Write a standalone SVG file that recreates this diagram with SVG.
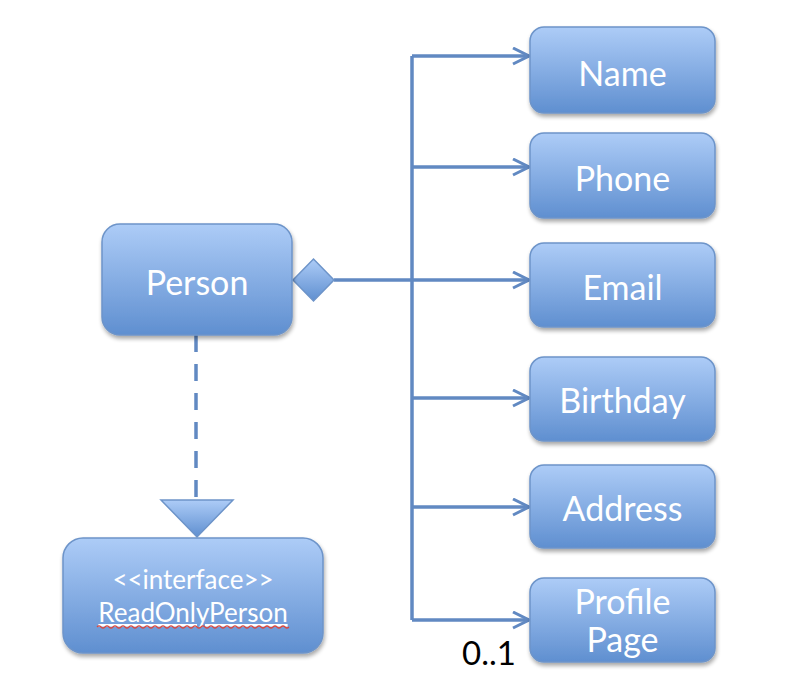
<svg xmlns="http://www.w3.org/2000/svg" width="804" height="694" viewBox="0 0 804 694">
<defs>
  <linearGradient id="g" x1="0" y1="0" x2="0" y2="1">
    <stop offset="0" stop-color="#adccf7"/>
    <stop offset="1" stop-color="#5f8fd0"/>
  </linearGradient>
  <filter id="sh" x="-10%" y="-10%" width="125%" height="130%">
    <feGaussianBlur in="SourceAlpha" stdDeviation="2"/>
    <feOffset dx="1" dy="3" result="b"/>
    <feComponentTransfer><feFuncA type="linear" slope="0.35"/></feComponentTransfer>
    <feMerge><feMergeNode/><feMergeNode in="SourceGraphic"/></feMerge>
  </filter>
  <marker id="open" markerWidth="20" markerHeight="20" refX="17" refY="9" orient="auto" markerUnits="userSpaceOnUse">
    <path d="M1,1 L17,9 L1,17" fill="none" stroke="#6189c2" stroke-width="3"/>
  </marker>
</defs>
<style>
  .box { fill: url(#g); stroke: #6d94c9; stroke-width: 1.5; filter: url(#sh); }
  .lbl { font-family: Lato, "Open Sans", "Liberation Sans", sans-serif; fill: #ffffff; text-anchor: middle; font-size: 34px; }
  .small { font-size: 26px; }
  .conn { fill: none; stroke: #6189c2; stroke-width: 3.5; }
</style>
<rect width="804" height="694" fill="#ffffff"/>

<g id="connectors">
  <line class="conn" x1="412" y1="56" x2="412" y2="620"/>
  <line class="conn" x1="334" y1="280" x2="412" y2="280"/>
  <line class="conn" x1="412" y1="56" x2="529" y2="56" marker-end="url(#open)"/>
  <line class="conn" x1="412" y1="167" x2="529" y2="167" marker-end="url(#open)"/>
  <line class="conn" x1="412" y1="280" x2="529" y2="280" marker-end="url(#open)"/>
  <line class="conn" x1="412" y1="398" x2="529" y2="398" marker-end="url(#open)"/>
  <line class="conn" x1="412" y1="507" x2="529" y2="507" marker-end="url(#open)"/>
  <line class="conn" x1="412" y1="620" x2="529" y2="620" marker-end="url(#open)"/>
  <line class="conn" x1="196" y1="335" x2="196" y2="500" stroke-dasharray="17 12"/>
  <path d="M293,280 L313.5,259 L334,280 L313.5,301 Z" fill="url(#g)" stroke="#6d94c9" stroke-width="1.5"/>
  <path d="M161,500 L233,500 L197,537 Z" fill="url(#g)" stroke="#6d94c9" stroke-width="1.5"/>
  <text x="462" y="665" font-family="Lato, 'Open Sans', 'Liberation Sans', sans-serif" font-size="33" fill="#000000">0..1</text>
</g>

<g id="person">
  <rect class="box" x="102" y="224" width="190" height="111" rx="18"/>
  <text class="lbl" x="197" y="295">Person</text>
</g>

<g id="readonlyperson">
  <rect class="box" x="63" y="538" width="260" height="115" rx="20"/>
  <text class="lbl small" x="193" y="589">&lt;&lt;interface&gt;&gt;</text>
  <text class="lbl small" x="193" y="622" text-decoration="underline">ReadOnlyPerson</text>
  <path d="M97,627 q2,-2 4,0 t4,0 t4,0 t4,0 t4,0 t4,0 t4,0 t4,0 t4,0 t4,0 t4,0 t4,0 t4,0 t4,0 t4,0 t4,0 t4,0 t4,0 t4,0 t4,0 t4,0 t4,0 t4,0 t4,0 t4,0 t4,0 t4,0 t4,0 t4,0 t4,0 t4,0 t4,0 t4,0 t4,0 t4,0 t4,0 t4,0 t4,0 t4,0 t4,0 t4,0 t4,0 t4,0 t4,0 t4,0 t4,0 t4,0 t4,0" fill="none" stroke="#d9483f" stroke-width="1.2"/>
</g>

<g id="name">
  <rect class="box" x="530" y="27" width="185" height="86" rx="14"/>
  <text class="lbl" x="622.5" y="86">Name</text>
</g>
<g id="phone">
  <rect class="box" x="530" y="133" width="185" height="85" rx="14"/>
  <text class="lbl" x="622.5" y="191">Phone</text>
</g>
<g id="email">
  <rect class="box" x="530" y="243" width="185" height="84" rx="14"/>
  <text class="lbl" x="622.5" y="300">Email</text>
</g>
<g id="birthday">
  <rect class="box" x="530" y="357" width="185" height="84" rx="14"/>
  <text class="lbl" x="622.5" y="413">Birthday</text>
</g>
<g id="address">
  <rect class="box" x="530" y="465" width="185" height="83" rx="14"/>
  <text class="lbl" x="622.5" y="521">Address</text>
</g>
<g id="profilepage">
  <rect class="box" x="530" y="578" width="185" height="84" rx="14"/>
  <text class="lbl" x="622.5" y="614">Profile</text>
  <text class="lbl" x="622.5" y="652">Page</text>
</g>
</svg>
